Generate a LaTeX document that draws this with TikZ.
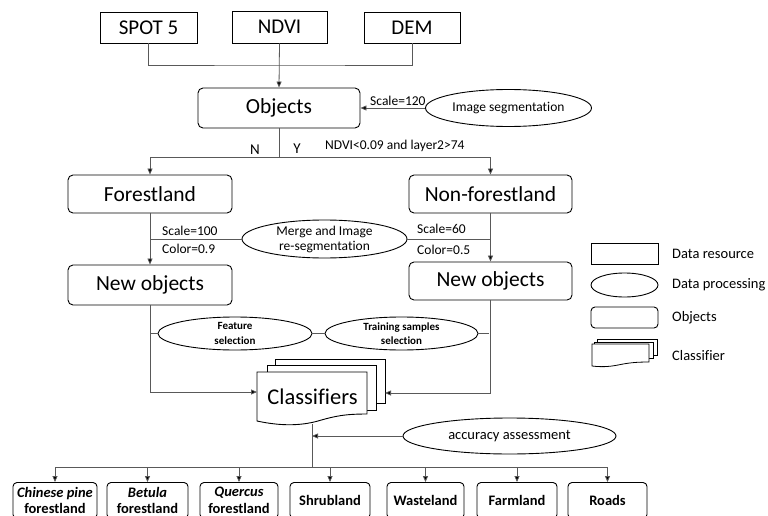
\documentclass[tikz,border=0pt]{standalone}
\usepackage{fontspec}
\setmainfont{Carlito}[Ligatures={NoCommon}]
\usetikzlibrary{shapes.geometric,arrows.meta}
\begin{document}
\begin{tikzpicture}[x=1pt,y=-1pt,
  line/.style={draw=black!65,line width=0.8pt},
  arrow/.style={line,-{Triangle[length=6pt,width=5pt,fill=black]}},
  srcbox/.style={draw,line width=0.9pt,inner sep=0pt,font=\fontsize{21}{25}\selectfont},
  objbox/.style={draw,line width=0.9pt,rounded corners=5pt,inner sep=0pt,font=\fontsize{21.5}{25}\selectfont},
  procell/.style={draw,ellipse,line width=0.9pt,inner sep=0pt,font=\fontsize{13.5}{15}\selectfont,align=center},
  boldell/.style={procell,font=\bfseries\fontsize{11}{14.5}\selectfont},
  lbl/.style={inner sep=0pt,font=\fontsize{13.5}{15}\selectfont},
  leglbl/.style={inner sep=0pt,font=\fontsize{14.5}{16}\selectfont},
  leaf/.style={draw,line width=0.9pt,rounded corners=4pt,inner sep=0pt,align=center,minimum height=36pt,font=\bfseries\fontsize{14.5}{16.5}\selectfont},
  page/.style={draw,line width=0.9pt,fill=white}
]
\useasboundingbox (0,0) rectangle (768,516);
\clip (0,0) rectangle (768,516);

% data sources
\node[srcbox,minimum width=97pt,minimum height=31pt] (spot) at (148.5,27.5) {SPOT 5};
\node[srcbox,minimum width=95pt,minimum height=32pt] (ndvi) at (279.5,27) {NDVI};
\node[srcbox,minimum width=96pt,minimum height=31pt] (dem) at (412,27.5) {DEM};

\node[objbox,minimum width=162pt,minimum height=40pt] (obj) at (279,108) {Objects};
\node[procell,minimum width=166pt,minimum height=37pt] (seg) at (508.5,108) {Image segmentation};

\coordinate (jtop) at (279,65);
\draw[line] (spot.south) |- (jtop) -| (dem.south);
\draw[arrow] (ndvi.south) -- (obj.north);
\draw[arrow] (seg.west) -- (obj.east);
\node[lbl,anchor=south west] (s120) at (370,106) {Scale=120};

% split
\node[objbox,minimum width=164pt,minimum height=38pt] (forest) at (150,194) {Forestland};
\node[objbox,minimum width=163pt,minimum height=38pt] (nonforest) at (490.5,194) {Non-forestland};
\coordinate (jsplit) at (279,157);
\draw[line] (obj.south) -- (jsplit);
\draw[arrow] (jsplit) -| (forest.north);
\draw[arrow] (jsplit) -| (nonforest.north);
\node[lbl,font=\fontsize{15}{17}\selectfont] (nlab) at (255,150) {N};
\node[lbl,font=\fontsize{15}{17}\selectfont] (ylab) at (297,149) {Y};
\node[lbl,anchor=west] (cond) at (325,146) {NDVI<0.09 and layer2>74};

% re-segmentation
\node[objbox,minimum width=164pt,minimum height=40pt] (newL) at (150,285) {New objects};
\node[objbox,minimum width=163pt,minimum height=38pt] (newR) at (490.5,281) {New objects};
\node[procell,minimum width=165pt,minimum height=38pt] (merge) at (324.5,239) {Merge and Image\\re-segmentation};
\draw[arrow] (forest.south) -- (newL.north);
\draw[arrow] (nonforest.south) -- (newR.north);
\draw[line] (merge.west) -- (merge.west -| forest.south);
\draw[line] (merge.east) -- (merge.east -| nonforest.south);
\node[lbl,anchor=west] (sc100) at (162,231) {Scale=100};
\node[lbl,anchor=west] (co09) at (162,249) {Color=0.9};
\node[lbl,anchor=west] (sc60) at (417,229) {Scale=60};
\node[lbl,anchor=west] (co05) at (417,250) {Color=0.5};

% feature / training
\node[boldell,minimum width=154pt,minimum height=33pt] (feat) at (235,333.5) {Feature\\selection};
\node[boldell,minimum width=153pt,minimum height=33pt] (train) at (401.5,333.5) {Training samples\\selection};
\coordinate (fl) at (150,333.5);
\coordinate (tr) at (489,333.5);
\draw[line] (fl) -- (feat.west);
\draw[line] (feat.east) -- (train.west);
\draw[line] (train.east) -- (tr);

% classifiers
\draw[page] (275,359) rectangle (385,403);
\draw[page] (267,365) rectangle (376,410);
\draw[page] (257,372) -- (367,372) -- (367,414) .. controls (345,414) and (335,416) .. (318,421) .. controls (300,426) and (280,426) .. (257,421) -- cycle;
\node[inner sep=0pt,font=\fontsize{22.5}{26}\selectfont] (cls) at (312.5,397) {Classifiers};
\coordinate (clsL) at (257,392);
\coordinate (clsR) at (385,393);
\coordinate (clsB) at (312,424);
\draw[arrow] (newL.south) |- (clsL);
\draw[arrow] (newR.south) |- (clsR);

\node[procell,minimum width=213pt,minimum height=36pt,font=\fontsize{14.5}{17}\selectfont] (acc) at (509.5,436) {accuracy assessment};
\coordinate (jbot) at (312,467);
\draw[line] (clsB) -- (jbot);
\draw[arrow] (acc.west) -- (acc.west -| clsB);

% leaves
\node[leaf,minimum width=84pt] (c1) at (55,500.5) {\textit{Chinese pine}\\forestland};
\node[leaf,minimum width=81pt] (c2) at (147.5,500.5) {\textit{Betula}\\forestland};
\node[leaf,minimum width=78pt] (c3) at (239,500.5) {\textit{Quercus}\\forestland};
\node[leaf,minimum width=80pt] (c4) at (330,500.5) {Shrubland};
\node[leaf,minimum width=77pt] (c5) at (425.5,500.5) {Wasteland};
\node[leaf,minimum width=80pt] (c6) at (517,500.5) {Farmland};
\node[leaf,minimum width=79pt] (c7) at (607.5,500.5) {Roads};
\draw[line] (jbot -| c1.north) -- (jbot -| c7.north);
\foreach \n in {c1,c2,c3,c4,c5,c6,c7} {\draw[arrow] (jbot -| \n.north) -- (\n.north);}

% legend
\node[draw,line width=0.9pt,minimum width=67pt,minimum height=21pt,inner sep=0pt] (lg1) at (624.5,253.5) {};
\node[draw,ellipse,line width=0.9pt,minimum width=67pt,minimum height=24pt,inner sep=0pt] (lg2) at (624.5,285) {};
\node[draw,line width=0.9pt,rounded corners=4pt,minimum width=67pt,minimum height=21pt,inner sep=0pt] (lg3) at (624.5,317.5) {};
\draw[page,line width=0.8pt] (597,339) rectangle (657,355);
\draw[page,line width=0.8pt] (594,342) rectangle (653,358);
\draw[page,line width=0.8pt] (592,344) -- (649,344) -- (649,362) .. controls (635,362) and (628,363) .. (618,365) .. controls (608,367) and (600,367) .. (592,366) -- cycle;
\node[leglbl,anchor=west] (t1) at (672,253.5) {Data resource};
\node[leglbl,anchor=west] (t2) at (672,285) {Data processing};
\node[leglbl,anchor=west] (t3) at (672,318) {Objects};
\node[leglbl,anchor=west] (t4) at (672,356) {Classifier};
\end{tikzpicture}
\end{document}
